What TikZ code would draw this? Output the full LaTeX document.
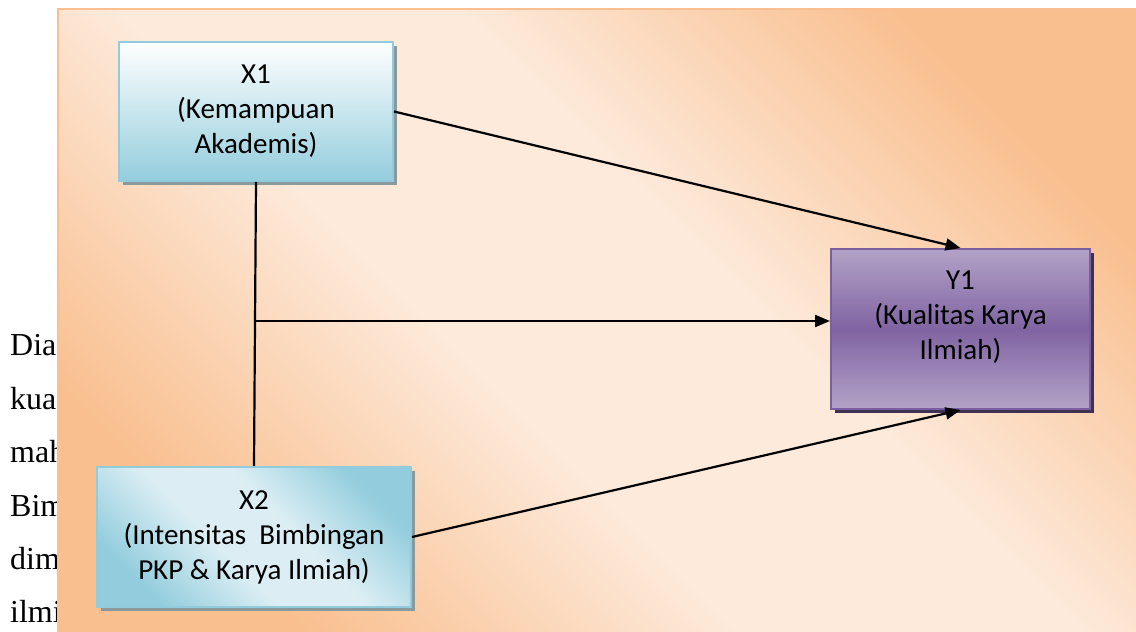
\documentclass[tikz,border=0pt]{standalone}
\usepackage{fontspec}
\setmainfont{Liberation Serif}
\newfontfamily\boxfont{Carlito}
\usetikzlibrary{arrows.meta,shadows,calc}

\definecolor{bglight}{HTML}{FDEADB}
\definecolor{bgdark}{HTML}{F9BF8F}
\definecolor{bgline}{HTML}{F9BF90}
\definecolor{xlight}{HTML}{DCEEF4}
\definecolor{xdark}{HTML}{93CDDD}
\definecolor{xline}{HTML}{92CBDC}
\definecolor{xshadow}{HTML}{8A9A9C}
\definecolor{ylight}{HTML}{B3A2C7}
\definecolor{ydark}{HTML}{8064A2}
\definecolor{yline}{HTML}{7B5E9F}
\definecolor{yshadow}{HTML}{3F3151}

\pgfdeclareverticalshading{bgshade}{100bp}{color(0bp)=(bgdark); color(25bp)=(bgdark);
  color(43bp)=(bglight); color(57bp)=(bglight); color(75bp)=(bgdark); color(100bp)=(bgdark)}
\pgfdeclareverticalshading{xshade}{100bp}{color(0bp)=(xdark); color(25bp)=(xdark);
  color(43bp)=(xlight); color(57bp)=(xlight); color(75bp)=(xdark); color(100bp)=(xdark)}

\tikzset{
  varbox/.style={draw=xline, line width=2pt, align=center,
    font=\boxfont\fontsize{29}{35}\selectfont,
    drop shadow={shadow xshift=4pt, shadow yshift=-4pt, fill=xshadow, opacity=1}},
  resultbox/.style={draw=yline, line width=2pt,
    top color=ylight, bottom color=ylight, middle color=ydark,
    drop shadow={shadow xshift=4pt, shadow yshift=-4pt, fill=yshadow, opacity=1}},
  boxtext/.style={align=center, font=\boxfont\fontsize{29}{35}\selectfont},
  bodytext/.style={anchor=base west, inner sep=0pt, font=\fontsize{32}{38}\selectfont},
  link/.style={line width=2.2pt},
  arrowlink/.style={line width=2.2pt, -{Triangle[length=15pt,width=12pt]}}
}

\begin{document}
\begin{tikzpicture}[x=1pt,y=1pt]
\useasboundingbox (0,0) rectangle (1136,632);
% running text behind the figure
\foreach \w [count=\i] in {Dia,kua,mah,Bim,dim,ilmi}{
  \node[bodytext] (t\i) at (10,{276-(\i-1)*53.4}) {\w};
}
% background
\shade[shading=bgshade, shading angle=-45] (58,-10) rectangle (1150,623);
\draw[bgline, line width=2pt] (58,-10) -- (58,623) -- (1150,623);
% boxes
\node[varbox, top color=white, bottom color=xdark, minimum width=274pt, minimum height=139pt]
  (x1) at (256,520.5) {X1\\(Kemampuan\\Akademis)};
\node[varbox, shading=xshade, shading angle=-45, minimum width=314pt, minimum height=140pt]
  (x2) at (254,95) {X2\\(Intensitas\ \ Bimbingan\\PKP \& Karya Ilmiah)};
\node[resultbox, minimum width=259pt, minimum height=160pt] (y1) at (960.5,303) {};
\node[boxtext] (y1txt) at ([yshift=12pt]y1.center) {Y1\\(Kualitas Karya\\Ilmiah)};
% connectors
\coordinate (j) at (256,311);
\draw[link] (x1.south) -- (x2.north);
\draw[arrowlink] (j) -- (j -| y1.west);
\draw[arrowlink] (x1.east) -- (y1.north);
\draw[arrowlink] (x2.east) -- (y1.south);
\end{tikzpicture}
\end{document}
